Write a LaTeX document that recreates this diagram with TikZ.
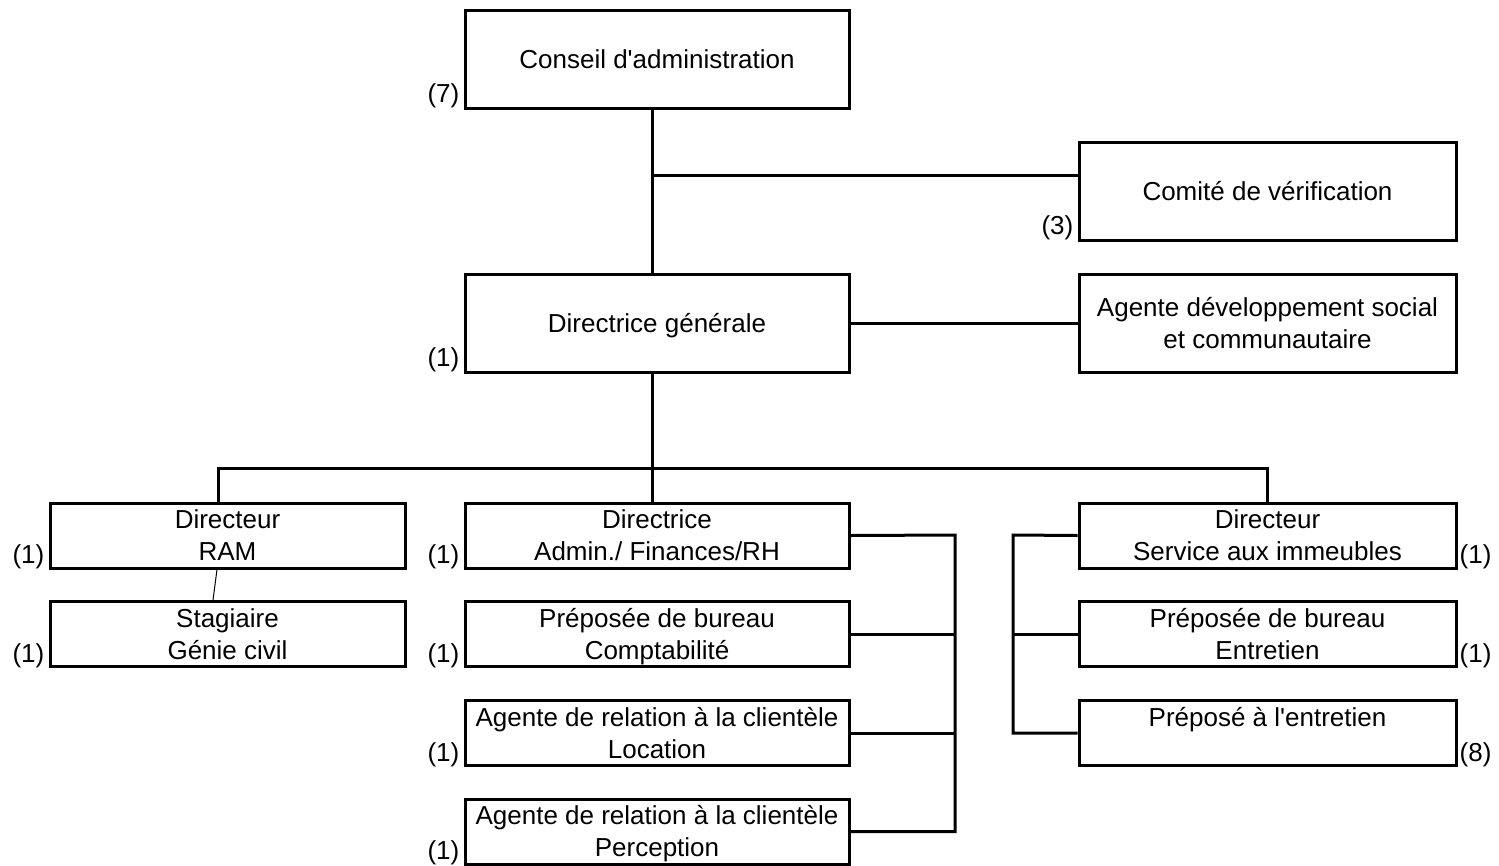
\documentclass[tikz,border=0pt]{standalone}
\usepackage{fontspec}
\setmainfont{Liberation Sans}
\usetikzlibrary{calc}
\newcommand\Lone[1]{\raisebox{0pt}[18pt][0pt]{#1}}
\newcommand\Ltwo[2]{\Lone{#1}\\\Lone{#2}}
\begin{document}
\begin{tikzpicture}[x=1pt,y=-1pt,
  box/.style={draw,line width=3pt,rectangle,inner sep=0pt,align=center,
    font=\fontsize{26}{32}\selectfont},
  wide/.style={minimum width=384pt},
  mid/.style={minimum width=377pt},
  narrow/.style={minimum width=355pt},
  tall/.style={minimum height=98pt},
  short/.style={minimum height=65pt},
  cnt/.style={font=\fontsize{26}{32}\selectfont,inner sep=0pt},
  conn/.style={line width=3pt},
  thin/.style={line width=1pt}]
\useasboundingbox (0,0) rectangle (1499,865);
% top
\node[box,wide,tall] (conseil) at (657,59) {\Lone{Conseil d\textquotesingle administration}};
\node[box,mid,tall] (comite) at (1267.5,191) {\Lone{Comité de vérification}};
\node[box,wide,tall] (dg) at (657,323) {\Lone{Directrice générale}};
\node[box,mid,tall] (agent) at (1267.5,323) {\Ltwo{Agente développement social}{et communautaire}};
% left column
\node[box,narrow,short] (ram) at (227.5,535.5) {\Ltwo{Directeur}{RAM}};
\node[box,narrow,short] (stag) at (227.5,634) {\Ltwo{Stagiaire}{Génie civil}};
% middle column
\node[box,wide,short] (daf) at (657,535.5) {\Ltwo{Directrice}{Admin./ Finances/RH}};
\node[box,wide,short] (compta) at (657,634) {\Ltwo{Préposée de bureau}{Comptabilité}};
\node[box,wide,short] (loc) at (657,733) {\Ltwo{Agente de relation à la clientèle}{Location}};
\node[box,wide,short] (perc) at (657,831.5) {\Ltwo{Agente de relation à la clientèle}{Perception}};
% right column
\node[box,mid,short] (dsi) at (1267.5,535.5) {\Ltwo{Directeur}{Service aux immeubles}};
\node[box,mid,short] (entr) at (1267.5,634) {\Ltwo{Préposée de bureau}{Entretien}};
\node[box,mid,short] (prep) at (1267.5,733) {\Ltwo{Préposé à l\textquotesingle entretien}{}};
% counts
\node[cnt,anchor=base east] (n1) at ($(conseil.south west)+(-4,-7)$) {(7)};
\node[cnt,anchor=base east] (n2) at ($(comite.south west)+(-4,-7)$) {(3)};
\node[cnt,anchor=base east] (n3) at ($(dg.south west)+(-4,-7)$) {(1)};
\node[cnt,anchor=base east] (n4) at ($(ram.south west)+(-4,-6)$) {(1)};
\node[cnt,anchor=base east] (n5) at ($(stag.south west)+(-4,-6)$) {(1)};
\node[cnt,anchor=base east] (n6) at ($(daf.south west)+(-4,-6)$) {(1)};
\node[cnt,anchor=base east] (n7) at ($(compta.south west)+(-4,-6)$) {(1)};
\node[cnt,anchor=base east] (n8) at ($(loc.south west)+(-4,-6)$) {(1)};
\node[cnt,anchor=base east] (n9) at ($(perc.south west)+(-4,-6)$) {(1)};
\node[cnt,anchor=base west] (n10) at ($(dsi.south east)+(2,-6)$) {(1)};
\node[cnt,anchor=base west] (n11) at ($(entr.south east)+(2,-6)$) {(1)};
\node[cnt,anchor=base west] (n12) at ($(prep.south east)+(2,-6)$) {(8)};
% helper coordinates
\coordinate (spine) at (652,175);
\coordinate (bar) at (652,468);
\coordinate (lx) at (218,468);
\coordinate (mbus) at (955,535);
\coordinate (rbus) at (1013,535);
\coordinate (ta) at (217,0);
\coordinate (tb) at (213,0);
% connectors
\draw[conn] (conseil.south -| spine) -- (dg.north -| spine);
\draw[conn] (spine) -- (spine -| comite.west);
\draw[conn] (dg.east) -- (agent.west);
\draw[conn] (dg.south -| bar) -- (bar);
\draw[conn] (ram.north -| lx) -- (lx) -- (bar -| dsi.north) -- (dsi.north);
\draw[conn] (bar) -- (daf.north -| bar);
\draw[thin] (ram.south -| ta) -- (stag.north -| tb);
\draw[conn] (daf.east) -- (mbus) -- (mbus |- perc.east) -- (perc.east);
\draw[conn] (compta.east) -- (compta.east -| mbus);
\draw[conn] (loc.east) -- (loc.east -| mbus);
\draw[conn] (dsi.west) -- (rbus) -- (rbus |- prep.west) -- (prep.west);
\draw[conn] (entr.west) -- (entr.west -| rbus);
\end{tikzpicture}
\end{document}
